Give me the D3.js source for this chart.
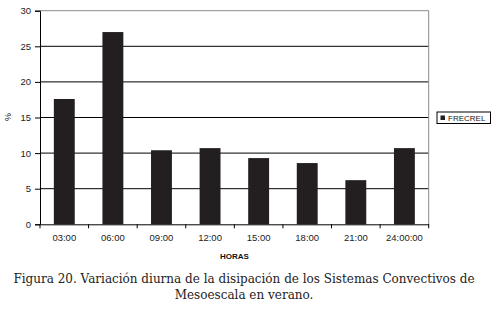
<!DOCTYPE html>
<html>
<head>
<meta charset="utf-8">
<script src="https://cdn.jsdelivr.net/npm/d3@7"></script>
<style>
  body { margin: 0; background: #fff; }
  svg { display: block; }
</style>
</head>
<body>
<div id="chart"></div>
<script>
// data
const horas = ["03:00", "06:00", "09:00", "12:00", "15:00", "18:00", "21:00", "24:00:00"];
const frecrel = [17.6, 27.0, 10.4, 10.7, 9.3, 8.6, 6.2, 10.7];
const yTicks = [0, 5, 10, 15, 20, 25, 30];
const serieName = "FRECREL";
const captionLines = [
    "Figura 20. Variación diurna de la disipación de los Sistemas Convectivos de",
    "Mesoescala en verano."
];

const W = 498, H = 320;
const margin = {top: 10.7, right: 69.3, bottom: 95.7, left: 40};
const width = W - margin.left - margin.right;
const height = H - margin.top - margin.bottom;

const svg = d3.select("#chart").append("svg")
    .attr("width", W)
    .attr("height", H);

const g = svg.append("g")
    .attr("transform", `translate(${margin.left},${margin.top})`);

const x = d3.scaleBand()
    .domain(horas)
    .range([0, width])
    .paddingInner(0.57)
    .paddingOuter(0.285);

const y = d3.scaleLinear()
    .domain([0, 30])
    .range([height, 0]);

// gridlines
g.selectAll(".grid")
    .data(yTicks.filter(d => d > 0))
    .enter().append("line")
    .attr("x1", 0)
    .attr("x2", width)
    .attr("y1", d => y(d))
    .attr("y2", d => y(d))
    .attr("stroke", d => d === 30 ? "#8a8a8a" : "#000")
    .attr("stroke-width", 1);

// right border
g.append("line")
    .attr("x1", width).attr("x2", width)
    .attr("y1", 0).attr("y2", height)
    .attr("stroke", "#8a8a8a");

// bars
g.selectAll(".bar")
    .data(frecrel)
    .enter().append("rect")
    .attr("x", (d, i) => x(horas[i]))
    .attr("y", d => y(d))
    .attr("width", x.bandwidth())
    .attr("height", d => height - y(d))
    .attr("fill", "#231f20");

// y axis
const yAxis = d3.axisLeft(y)
    .tickValues(yTicks)
    .tickSize(5)
    .tickPadding(4);

g.append("g")
    .attr("class", "y-axis")
    .call(yAxis)
    .call(a => a.select(".domain").attr("stroke", "#000"))
    .call(a => a.selectAll("text")
        .attr("font-family", "Liberation Sans, Arial, sans-serif")
        .attr("font-size", 9.5)
        .attr("fill", "#222"));

// x axis: ticks between categories
const step = x.step();
const xAxis = d3.axisBottom(x).tickSize(0).tickPadding(10);

const xg = g.append("g")
    .attr("class", "x-axis")
    .attr("transform", `translate(0,${height})`)
    .call(xAxis);
xg.select(".domain").attr("stroke", "#000");
xg.selectAll("text")
    .attr("font-family", "Liberation Sans, Arial, sans-serif")
    .attr("font-size", 9.5)
    .attr("fill", "#222");

xg.selectAll(".sep")
    .data(d3.range(horas.length + 1))
    .enter().append("line")
    .attr("x1", i => i * step)
    .attr("x2", i => i * step)
    .attr("y1", 0)
    .attr("y2", 4)
    .attr("stroke", "#000");

// axis titles
svg.append("text")
    .attr("x", margin.left + width / 2)
    .attr("y", 259)
    .attr("text-anchor", "middle")
    .attr("font-family", "Liberation Sans, Arial, sans-serif")
    .attr("font-weight", "bold")
    .attr("font-size", 8)
    .attr("fill", "#111")
    .text("HORAS");

svg.append("text")
    .attr("transform", "translate(11,117) rotate(-90)")
    .attr("text-anchor", "middle")
    .attr("font-family", "Liberation Sans, Arial, sans-serif")
    .attr("font-size", 9)
    .attr("fill", "#111")
    .text("%");

// legend
const leg = svg.append("g").attr("transform", "translate(437,112)");
leg.append("rect")
    .attr("width", 53.5).attr("height", 11.5)
    .attr("fill", "#fff").attr("stroke", "#000");
leg.append("rect")
    .attr("x", 3.5).attr("y", 3.5)
    .attr("width", 4.5).attr("height", 4.5)
    .attr("fill", "#231f20");
leg.append("text")
    .attr("x", 11).attr("y", 9)
    .attr("font-family", "Liberation Sans, Arial, sans-serif")
    .attr("font-size", 8)
    .attr("fill", "#222")
    .text(serieName);

// caption
svg.selectAll(".caption")
    .data(captionLines)
    .enter().append("text")
    .attr("x", 244)
    .attr("y", (d, i) => 283 + i * 15.5)
    .attr("text-anchor", "middle")
    .attr("font-family", "DejaVu Serif, Liberation Serif, serif")
    .attr("font-size", 12)
    .attr("fill", "#222")
    .text(d => d);
</script>
</body>
</html>
